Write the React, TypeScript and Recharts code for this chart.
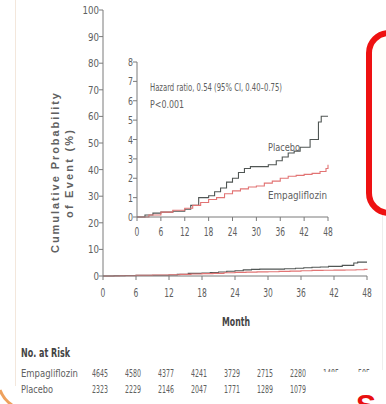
import React from "react";
import { Line, LineChart, XAxis, YAxis } from "recharts";

// Kaplan-Meier cumulative incidence, with a zoomed inset (0–8%) and the at-risk table.
const monthTicks = [0, 6, 12, 18, 24, 30, 36, 42, 48];
const mainPctTicks = [0, 10, 20, 30, 40, 50, 60, 70, 80, 90, 100];
const insetPctTicks = [0, 1, 2, 3, 4, 5, 6, 7, 8];

const placeboMonths = [0, 2, 4, 6, 9, 12, 13.5, 15.5, 18, 19.5, 21, 22.5, 24, 25.5, 27, 28.5, 31, 33, 35, 36.5, 38, 39.5, 41, 43.5, 45.6, 46.3, 48];
const placeboPct = [0, 0.1, 0.2, 0.25, 0.3, 0.4, 0.6, 1.0, 1.1, 1.3, 1.5, 1.8, 2.0, 2.3, 2.5, 2.6, 2.6, 2.7, 2.9, 3.1, 3.3, 3.4, 3.6, 4.0, 4.9, 5.2, 5.2];

const empaMonths = [0, 3, 6, 9, 12, 14, 16, 18, 20, 22, 24, 26, 28, 30, 32, 34, 36, 38, 40, 42, 44, 46, 47.5, 48];
const empaPct = [0, 0.1, 0.25, 0.35, 0.45, 0.6, 0.75, 0.9, 1.0, 1.2, 1.35, 1.45, 1.55, 1.6, 1.75, 1.85, 2.0, 2.1, 2.15, 2.2, 2.25, 2.35, 2.5, 2.7];

const riskEmpa = ["4645", "4580", "4377", "4241", "3729", "2715", "2280", "1485", "505"];
const riskPlacebo = ["2323", "2229", "2146", "2047", "1771", "1289", "1079"];

const toRows = (ms: number[], vs: number[]) => ms.map((m, i) => ({ m, v: vs[i] }));
const placeboRows = toRows(placeboMonths, placeboPct);
const empaRows = toRows(empaMonths, empaPct);

const NARROW = "'Liberation Sans Narrow', 'DejaVu Sans Condensed', 'Liberation Sans', sans-serif";
const SANS = "'Liberation Sans', Arial, sans-serif";
const GRAY = "#606060";
const AXIS = "#7a7a7a";
const PLACEBO = "#505654";
const EMPA = "#e27474";

// main plot spans x 103..367 for months 0..48
const monthX = (m: number) => 103 + (m * 264) / 48;

// condensed tick label: width squeezed per character
function Tick(props: any) {
  const { x, y, payload, textAnchor, dy, size, per } = props;
  const s = String(payload.value);
  return (
    <text x={x} y={y} dy={dy} textAnchor={textAnchor} fontSize={size} fontFamily={NARROW} fill={GRAY}
      textLength={s.length * per} lengthAdjust="spacingAndGlyphs">
      {s}
    </text>
  );
}

function Curves() {
  return [
    <Line key="p" data={placeboRows} dataKey="v" type="stepAfter" stroke={PLACEBO} strokeWidth={1.1} dot={false} isAnimationActive={false} />,
    <Line key="e" data={empaRows} dataKey="v" type="stepAfter" stroke={EMPA} strokeWidth={1.1} dot={false} isAnimationActive={false} />,
  ];
}

export default function App() {
  return (
    <div style={{ position: "absolute", left: 0, top: 0, width: 386, height: 404, background: "#fff", overflow: "hidden" }}>
      <div style={{ position: "absolute", left: 0, top: 0 }}>
        <LineChart width={386} height={304} margin={{ top: 10, right: 19, left: 63, bottom: 0 }}>
          <XAxis type="number" dataKey="m" domain={[0, 48]} ticks={monthTicks} interval={0} height={28} tickSize={4} stroke={AXIS}
            tick={(p: any) => <Tick {...p} dy={15} size={12} per={4.8} />} allowDuplicatedCategory={false} />
          <YAxis type="number" domain={[0, 100]} ticks={mainPctTicks} interval={0} width={40} tickSize={4} tickMargin={0} stroke={AXIS}
            tick={(p: any) => <Tick {...p} dy={4} size={11} per={5.5} />} />
          {Curves()}
        </LineChart>
      </div>
      <div style={{ position: "absolute", left: 0, top: 0 }}>
        <LineChart width={340} height={239} margin={{ top: 62, right: 12, left: 117, bottom: 0 }}>
          <XAxis type="number" dataKey="m" domain={[0, 48]} ticks={monthTicks} interval={0} height={22} tickSize={4} stroke={AXIS}
            tick={(p: any) => <Tick {...p} dy={13} size={12} per={4.8} />} allowDuplicatedCategory={false} />
          <YAxis type="number" domain={[0, 8]} ticks={insetPctTicks} interval={0} width={20} tickSize={4} tickMargin={0} stroke={AXIS}
            tick={(p: any) => <Tick {...p} dy={4} size={11} per={5} />} />
          {Curves()}
        </LineChart>
      </div>
      <svg width={386} height={404} style={{ position: "absolute", left: 0, top: 0, pointerEvents: "none" }}>
        {/* card edges */}
        <line x1={15.5} y1={0} x2={15.5} y2={386} stroke="#f3e7dc" strokeWidth={1} />
        <line x1={382.5} y1={215} x2={382.5} y2={370} stroke="#eeeeee" strokeWidth={1} />
        <path d="M 0 390 Q 4 400 12 405" fill="none" stroke="#ea8a34" strokeWidth={3} opacity={0.8} />

        {/* y-axis title */}
        <text transform="translate(59,173) rotate(-90)" textAnchor="middle" fontFamily={SANS} fontWeight="bold" fontSize={11}
          fill={GRAY} textLength={160} lengthAdjust="spacing">Cumulative Probability</text>
        <text transform="translate(73,174) rotate(-90)" textAnchor="middle" fontFamily={SANS} fontWeight="bold" fontSize={11}
          fill={GRAY} textLength={88} lengthAdjust="spacing">of Event (%)</text>

        <text x={236} y={326} textAnchor="middle" fontFamily={NARROW} fontWeight="bold" fontSize={12} fill="#444"
          textLength={28} lengthAdjust="spacingAndGlyphs">Month</text>

        {/* inset annotations */}
        <text x={150} y={91} fontFamily={NARROW} fontSize={11} fill={GRAY} textLength={132} lengthAdjust="spacingAndGlyphs">
          Hazard ratio, 0.54 (95% CI, 0.40–0.75)
        </text>
        <text x={150} y={108} fontFamily={NARROW} fontSize={11} fill={GRAY} textLength={34} lengthAdjust="spacingAndGlyphs">P&lt;0.001</text>
        <text x={268} y={151} fontFamily={NARROW} fontSize={11} fill={GRAY} textLength={32} lengthAdjust="spacingAndGlyphs">Placebo</text>
        <text x={268} y={199} fontFamily={NARROW} fontSize={11} fill={GRAY} textLength={59} lengthAdjust="spacingAndGlyphs">Empagliflozin</text>

        {/* number at risk */}
        <text x={21} y={357} fontFamily={NARROW} fontWeight="bold" fontSize={12} fill="#444" textLength={49} lengthAdjust="spacingAndGlyphs">No. at Risk</text>
        <text x={21} y={377} fontFamily={NARROW} fontSize={11} fill={GRAY} textLength={57} lengthAdjust="spacingAndGlyphs">Empagliflozin</text>
        <text x={21} y={393} fontFamily={NARROW} fontSize={11} fill={GRAY} textLength={32} lengthAdjust="spacingAndGlyphs">Placebo</text>
        {riskEmpa.map((v, i) => (
          <text key={"e" + i} x={monthX(monthTicks[i]) - 3} y={377} textAnchor="middle" fontFamily={NARROW} fontSize={11} fill={GRAY}
            textLength={v.length * 4} lengthAdjust="spacingAndGlyphs">{v}</text>
        ))}
        {riskPlacebo.map((v, i) => (
          <text key={"p" + i} x={monthX(monthTicks[i]) - 3} y={393} textAnchor="middle" fontFamily={NARROW} fontSize={11} fill={GRAY}
            textLength={v.length * 4} lengthAdjust="spacingAndGlyphs">{v}</text>
        ))}

        {/* slide overlays */}
        <rect x={306} y={372} width={90} height={40} fill="#fff" />
        <rect x={369} y={33} width={80} height={180} rx={20} ry={20} fill="#fffefb" stroke="#ee1111" strokeWidth={6} />
        <text x={356} y={415} fontFamily={SANS} fontWeight="bold" fontSize={30} fill="#e81010">S</text>
      </svg>
    </div>
  );
}
